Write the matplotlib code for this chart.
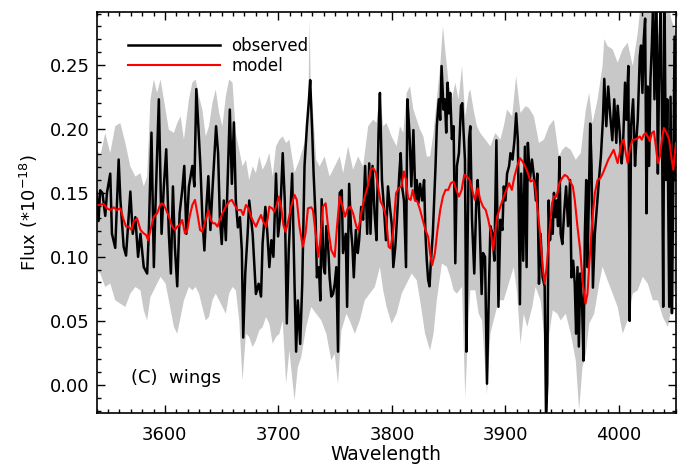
import numpy as np
import matplotlib
matplotlib.use('Agg')
from matplotlib import pyplot as plt
from matplotlib.ticker import MultipleLocator

# observed spectrum (wavelength, flux in 1e-18)
obs_wave = [3540.0, 3541.6, 3543.0, 3545.0, 3547.5, 3549.0, 3551.9, 3553.4, 3556.3, 3559.3,
            3560.8, 3563.7, 3565.8, 3569.6, 3571.7, 3574.0, 3576.4, 3578.5, 3581.4, 3584.4,
            3585.8, 3588.2, 3590.3, 3591.7, 3594.7, 3597.1, 3599.1, 3601.2, 3603.5, 3605.3,
            3607.1, 3608.8, 3610.9, 3613.0, 3615.3, 3617.1, 3618.9, 3621.2, 3624.2, 3626.0,
            3627.7, 3629.5, 3631.3, 3633.0, 3634.8, 3636.6, 3638.3, 3640.1, 3641.9, 3643.4,
            3645.1, 3646.9, 3648.4, 3650.1, 3651.9, 3653.7, 3655.5, 3657.2, 3659.0, 3660.8,
            3662.5, 3664.3, 3666.1, 3667.8, 3669.0, 3670.8, 3672.9, 3674.3, 3677.3, 3680.2,
            3682.6, 3684.7, 3686.1, 3688.5, 3690.3, 3692.0, 3693.8, 3695.6, 3697.9, 3699.7,
            3701.5, 3703.8, 3705.6, 3707.4, 3709.1, 3712.1, 3714.2, 3715.6, 3717.1, 3719.2,
            3721.0, 3723.0, 3725.1, 3726.9, 3728.0, 3729.8, 3731.0, 3732.8, 3733.9, 3735.7,
            3736.9, 3738.1, 3739.8, 3741.0, 3742.2, 3744.0, 3745.1, 3746.6, 3748.1, 3749.6,
            3751.0, 3752.5, 3754.0, 3755.8, 3756.9, 3759.3, 3760.5, 3762.3, 3764.0, 3765.2,
            3766.4, 3768.2, 3769.9, 3771.1, 3772.9, 3774.6, 3776.4, 3778.2, 3780.0, 3781.1,
            3782.9, 3784.7, 3786.4, 3788.2, 3789.4, 3791.2, 3792.9, 3794.7, 3796.5, 3798.2,
            3800.0, 3801.2, 3803.0, 3804.7, 3806.5, 3807.7, 3808.9, 3810.6, 3812.4, 3813.6,
            3815.4, 3817.1, 3818.9, 3820.7, 3821.8, 3823.3, 3824.8, 3826.6, 3828.3, 3829.5,
            3830.7, 3831.9, 3833.1, 3834.2, 3836.0, 3837.2, 3838.4, 3839.5, 3841.3, 3842.5,
            3843.7, 3845.4, 3846.6, 3847.8, 3849.0, 3850.2, 3851.3, 3852.8, 3854.3, 3855.8,
            3857.2, 3859.0, 3860.8, 3862.0, 3863.1, 3864.3, 3865.5, 3866.7, 3867.9, 3869.0,
            3870.5, 3872.5, 3874.3, 3875.5, 3877.3, 3879.0, 3880.2, 3882.0, 3883.7, 3885.2,
            3886.7, 3888.5, 3890.2, 3892.0, 3893.8, 3895.5, 3897.3, 3898.5, 3900.0, 3901.4,
            3903.2, 3904.4, 3906.2, 3907.9, 3909.4, 3910.9, 3912.7, 3913.8, 3915.6, 3917.1,
            3918.6, 3919.7, 3921.5, 3923.3, 3925.0, 3926.8, 3928.0, 3929.5, 3930.9, 3932.7,
            3934.5, 3935.7, 3936.8, 3938.0, 3939.2, 3940.4, 3941.6, 3942.7, 3943.9, 3945.1,
            3946.3, 3947.5, 3948.6, 3950.1, 3951.6, 3953.4, 3955.1, 3956.9, 3958.1, 3959.6,
            3961.0, 3962.2, 3963.4, 3964.6, 3965.8, 3967.5, 3968.7, 3969.9, 3971.1, 3972.2,
            3973.4, 3974.6, 3975.8, 3977.0, 3978.7, 3980.5, 3982.3, 3984.0, 3985.8, 3987.0,
            3988.8, 3990.5, 3992.3, 3994.1, 3995.8, 3997.6, 3998.8, 4000.6, 4002.3, 4003.5,
            4005.3, 4006.5, 4008.2, 4009.4, 4010.6, 4012.4, 4014.1, 4015.3, 4016.5, 4018.3,
            4019.4, 4020.6, 4021.8, 4023.0, 4024.2, 4025.3, 4026.5, 4027.7, 4028.9, 4030.1,
            4031.2, 4033.0, 4034.2, 4035.4, 4036.6, 4037.7, 4038.9, 4040.1, 4041.3, 4042.5,
            4044.2, 4045.4, 4046.6, 4047.8, 4048.9, 4050.1]
obs_flux = [0.150, 0.128, 0.152, 0.150, 0.132, 0.150, 0.165, 0.118, 0.107, 0.176,
            0.145, 0.108, 0.101, 0.151, 0.118, 0.131, 0.100, 0.118, 0.092, 0.087,
            0.118, 0.197, 0.092, 0.139, 0.223, 0.118, 0.155, 0.184, 0.118, 0.087,
            0.155, 0.108, 0.077, 0.134, 0.152, 0.171, 0.118, 0.155, 0.171, 0.155,
            0.231, 0.202, 0.171, 0.131, 0.105, 0.139, 0.163, 0.121, 0.152, 0.176,
            0.202, 0.181, 0.131, 0.110, 0.144, 0.113, 0.165, 0.215, 0.157, 0.205,
            0.144, 0.123, 0.131, 0.105, 0.037, 0.087, 0.118, 0.144, 0.118, 0.071,
            0.079, 0.069, 0.111, 0.139, 0.118, 0.092, 0.113, 0.100, 0.165, 0.116,
            0.131, 0.181, 0.144, 0.048, 0.105, 0.165, 0.079, 0.026, 0.066, 0.032,
            0.079, 0.171, 0.202, 0.223, 0.238, 0.197, 0.165, 0.129, 0.084, 0.092,
            0.066, 0.145, 0.092, 0.087, 0.124, 0.105, 0.084, 0.069, 0.071, 0.079,
            0.092, 0.026, 0.150, 0.152, 0.103, 0.118, 0.061, 0.157, 0.121, 0.108,
            0.084, 0.121, 0.103, 0.113, 0.139, 0.129, 0.171, 0.118, 0.173, 0.118,
            0.171, 0.134, 0.113, 0.197, 0.228, 0.160, 0.139, 0.113, 0.155, 0.139,
            0.124, 0.092, 0.108, 0.134, 0.165, 0.181, 0.155, 0.144, 0.092, 0.223,
            0.197, 0.155, 0.199, 0.144, 0.160, 0.142, 0.157, 0.144, 0.160, 0.118,
            0.097, 0.082, 0.077, 0.095, 0.118, 0.144, 0.171, 0.202, 0.223, 0.207,
            0.249, 0.215, 0.223, 0.197, 0.236, 0.212, 0.228, 0.192, 0.202, 0.095,
            0.171, 0.181, 0.218, 0.220, 0.197, 0.176, 0.026, 0.118, 0.192, 0.202,
            0.129, 0.087, 0.144, 0.160, 0.124, 0.071, 0.103, 0.100, 0.001, 0.066,
            0.124, 0.118, 0.097, 0.191, 0.061, 0.129, 0.121, 0.155, 0.144, 0.165,
            0.171, 0.181, 0.176, 0.191, 0.212, 0.191, 0.063, 0.165, 0.097, 0.186,
            0.092, 0.189, 0.160, 0.176, 0.163, 0.144, 0.165, 0.079, 0.118, 0.084,
            0.077, -0.025, 0.001, 0.144, 0.113, 0.129, 0.118, 0.150, 0.131, 0.144,
            0.124, 0.178, 0.118, 0.110, 0.134, 0.155, 0.124, 0.160, 0.084, 0.097,
            0.079, 0.040, 0.092, 0.030, 0.087, 0.061, 0.019, 0.118, 0.160, 0.092,
            0.144, 0.204, 0.171, 0.076, 0.118, 0.139, 0.160, 0.178, 0.207, 0.239,
            0.202, 0.233, 0.210, 0.191, 0.223, 0.189, 0.218, 0.197, 0.173, 0.186,
            0.236, 0.207, 0.249, 0.050, 0.202, 0.223, 0.171, 0.192, 0.207, 0.257,
            0.265, 0.228, 0.270, 0.286, 0.134, 0.233, 0.171, 0.239, 0.265, 0.300,
            0.223, 0.300, 0.165, 0.249, 0.300, 0.228, 0.061, 0.300, 0.160, 0.223,
            0.061, 0.225, 0.056, 0.160, 0.272, 0.160]

# model spectrum
mod_wave = [3541.6, 3546.0, 3549.0, 3551.9, 3554.9, 3557.8, 3560.8, 3563.7, 3565.8, 3568.1,
            3570.5, 3572.6, 3575.5, 3578.5, 3581.4, 3583.5, 3585.3, 3587.3, 3590.3, 3593.2,
            3595.3, 3597.1, 3599.1, 3601.2, 3603.5, 3606.5, 3608.8, 3610.9, 3613.0, 3615.3,
            3617.7, 3619.8, 3621.8, 3624.2, 3626.5, 3628.6, 3631.0, 3633.0, 3636.0, 3638.3,
            3640.4, 3642.5, 3644.2, 3646.3, 3648.4, 3650.7, 3653.7, 3656.6, 3659.0, 3661.4,
            3664.0, 3667.0, 3669.0, 3671.4, 3673.7, 3675.8, 3677.9, 3680.2, 3682.6, 3684.7,
            3686.7, 3689.1, 3690.6, 3692.0, 3694.4, 3696.5, 3698.5, 3700.3, 3702.4, 3704.4,
            3706.2, 3708.3, 3711.2, 3714.2, 3716.2, 3718.6, 3721.5, 3723.9, 3726.0, 3728.9,
            3730.4, 3732.8, 3735.1, 3736.9, 3739.2, 3741.6, 3744.0, 3746.6, 3749.6, 3751.6,
            3754.0, 3756.4, 3758.7, 3761.1, 3763.4, 3765.8, 3768.7, 3770.5, 3772.9, 3776.1,
            3779.1, 3781.1, 3783.5, 3785.9, 3788.2, 3790.0, 3792.3, 3794.7, 3797.1, 3798.8,
            3801.2, 3803.6, 3805.9, 3808.3, 3810.6, 3812.4, 3814.2, 3816.5, 3818.3, 3820.1,
            3822.4, 3824.8, 3827.2, 3829.5, 3831.9, 3833.6, 3835.4, 3837.8, 3840.1, 3842.5,
            3844.9, 3847.2, 3849.6, 3851.9, 3854.3, 3856.7, 3859.0, 3861.4, 3863.7, 3866.1,
            3868.5, 3871.4, 3873.1, 3875.5, 3877.8, 3880.2, 3882.6, 3884.9, 3887.3, 3889.1,
            3890.8, 3892.6, 3895.5, 3898.5, 3900.9, 3903.2, 3905.6, 3907.9, 3910.3, 3912.7,
            3915.0, 3917.4, 3919.7, 3922.1, 3924.5, 3926.2, 3928.0, 3930.4, 3932.7, 3934.5,
            3936.3, 3938.6, 3941.0, 3942.7, 3945.1, 3947.5, 3949.8, 3952.2, 3954.5, 3956.9,
            3959.3, 3961.0, 3963.4, 3965.8, 3968.1, 3970.5, 3972.2, 3974.0, 3976.4, 3978.7,
            3981.1, 3983.5, 3985.8, 3988.2, 3990.5, 3992.9, 3995.3, 3997.0, 3998.8, 4000.6,
            4002.3, 4004.1, 4005.9, 4007.6, 4009.4, 4011.8, 4014.1, 4016.5, 4018.3, 4020.0,
            4021.8, 4023.6, 4025.3, 4027.1, 4028.9, 4030.7, 4032.4, 4034.2, 4036.0, 4037.7,
            4039.5, 4041.9, 4044.2, 4046.0, 4047.8, 4048.9, 4050.1]
mod_flux = [0.1405, 0.1413, 0.1379, 0.1366, 0.1387, 0.1366, 0.1379, 0.1288, 0.1236, 0.1236,
            0.1210, 0.1275, 0.1301, 0.1210, 0.1183, 0.1170, 0.1131, 0.1210, 0.1314, 0.1340,
            0.1392, 0.1418, 0.1405, 0.1366, 0.1314, 0.1236, 0.1210, 0.1236, 0.1249, 0.1288,
            0.1183, 0.1210, 0.1314, 0.1405, 0.1445, 0.1340, 0.1210, 0.1196, 0.1288, 0.1366,
            0.1288, 0.1262, 0.1262, 0.1236, 0.1288, 0.1340, 0.1392, 0.1432, 0.1445, 0.1405,
            0.1366, 0.1366, 0.1327, 0.1405, 0.1379, 0.1314, 0.1275, 0.1236, 0.1288, 0.1327,
            0.1275, 0.1236, 0.1301, 0.1392, 0.1379, 0.1353, 0.1405, 0.1471, 0.1392, 0.1249,
            0.1196, 0.1262, 0.1392, 0.1484, 0.1445, 0.1236, 0.1079, 0.1183, 0.1379, 0.1387,
            0.1366, 0.1183, 0.1000, 0.1131, 0.1392, 0.1418, 0.1210, 0.1053, 0.1000, 0.1236,
            0.1471, 0.1392, 0.1314, 0.1379, 0.1392, 0.1340, 0.1236, 0.1210, 0.1340, 0.1471,
            0.1562, 0.1680, 0.1693, 0.1654, 0.1523, 0.1432, 0.1392, 0.1314, 0.1079, 0.1066,
            0.1210, 0.1497, 0.1536, 0.1550, 0.1667, 0.1600, 0.1458, 0.1445, 0.1523, 0.1445,
            0.1432, 0.1366, 0.1288, 0.1210, 0.1157, 0.1027, 0.0935, 0.1027, 0.1210, 0.1366,
            0.1471, 0.1523, 0.1523, 0.1575, 0.1588, 0.1523, 0.1471, 0.1523, 0.1640, 0.1627,
            0.1600, 0.1497, 0.1445, 0.1536, 0.1445, 0.1392, 0.1366, 0.1288, 0.1183, 0.1053,
            0.1183, 0.1314, 0.1392, 0.1471, 0.1523, 0.1575, 0.1523, 0.1627, 0.1706, 0.1771,
            0.1745, 0.1706, 0.1654, 0.1588, 0.1600, 0.1550, 0.1392, 0.1183, 0.0922, 0.0792,
            0.0922, 0.1183, 0.1418, 0.1471, 0.1471, 0.1575, 0.1614, 0.1640, 0.1627, 0.1588,
            0.1550, 0.1445, 0.1236, 0.1053, 0.0792, 0.0635, 0.0713, 0.0970, 0.1288, 0.1497,
            0.1600, 0.1614, 0.1654, 0.1706, 0.1758, 0.1797, 0.1836, 0.1784, 0.1732, 0.1810,
            0.1889, 0.1915, 0.1810, 0.1732, 0.1836, 0.1915, 0.1915, 0.1928, 0.1940, 0.1915,
            0.1954, 0.1967, 0.1940, 0.1902, 0.1967, 0.1980, 0.1863, 0.1732, 0.1784, 0.1915,
            0.2006, 0.1967, 0.1915, 0.1784, 0.1680, 0.1784, 0.1889]

# uncertainty band, upper and lower edges
up_wave = [3539.2, 3543.1, 3547.5, 3551.9, 3556.3, 3560.8, 3565.2, 3569.6, 3574.0, 3578.5,
           3581.4, 3584.4, 3587.3, 3590.3, 3593.2, 3596.2, 3600.6, 3603.5, 3608.0, 3610.9,
           3613.9, 3616.8, 3621.2, 3624.2, 3627.1, 3630.1, 3633.0, 3636.0, 3638.9, 3641.9,
           3644.8, 3647.8, 3650.7, 3653.7, 3656.6, 3659.6, 3662.5, 3665.5, 3668.4, 3671.4,
           3674.3, 3677.3, 3680.2, 3683.2, 3686.1, 3689.1, 3692.0, 3695.0, 3697.9, 3700.9,
           3703.8, 3706.8, 3709.7, 3714.2, 3718.6, 3723.0, 3726.3, 3727.4, 3728.6, 3730.4,
           3733.3, 3736.3, 3740.7, 3745.1, 3749.6, 3754.0, 3757.0, 3761.4, 3765.8, 3770.2,
           3774.6, 3779.1, 3783.5, 3786.4, 3789.4, 3792.3, 3795.3, 3799.7, 3804.1, 3807.1,
           3810.0, 3813.0, 3815.9, 3818.9, 3821.8, 3824.8, 3827.7, 3830.7, 3833.6, 3836.6,
           3839.5, 3842.5, 3844.9, 3846.9, 3849.9, 3852.8, 3855.8, 3858.7, 3861.7, 3864.6,
           3867.6, 3869.0, 3871.9, 3874.9, 3877.8, 3882.3, 3886.7, 3891.1, 3895.5, 3898.5,
           3901.4, 3905.9, 3909.4, 3913.2, 3917.7, 3920.6, 3925.0, 3929.5, 3933.9, 3938.3,
           3942.7, 3947.2, 3950.1, 3953.1, 3957.5, 3961.9, 3966.3, 3970.8, 3973.7, 3976.7,
           3981.1, 3985.5, 3987.0, 3989.9, 3994.4, 3998.8, 4003.2, 4007.6, 4012.1, 4016.5,
           4019.4, 4023.9, 4028.3, 4032.7, 4035.7, 4038.6, 4043.0, 4046.0, 4050.1]
up_flux = [0.1863, 0.1784, 0.1967, 0.1810, 0.2020, 0.2045, 0.1889, 0.1706, 0.1627, 0.1654,
           0.1550, 0.1627, 0.2228, 0.2385, 0.2280, 0.2385, 0.2150, 0.1993, 0.1967, 0.2045,
           0.2098, 0.1915, 0.2228, 0.2360, 0.2385, 0.2254, 0.2150, 0.1940, 0.2020, 0.2202,
           0.2307, 0.2124, 0.2020, 0.2254, 0.2385, 0.2360, 0.1967, 0.1836, 0.1706, 0.1758,
           0.1600, 0.1706, 0.1654, 0.1784, 0.1680, 0.1732, 0.1810, 0.1627, 0.1863, 0.1915,
           0.1940, 0.1889, 0.1915, 0.1658, 0.1758, 0.1889, 0.2100, 0.2855, 0.2300, 0.2150,
           0.1758, 0.1706, 0.1784, 0.1627, 0.1706, 0.1784, 0.1654, 0.1863, 0.1680, 0.1784,
           0.1706, 0.2020, 0.2072, 0.2045, 0.2280, 0.2020, 0.2045, 0.1940, 0.1863, 0.2020,
           0.1967, 0.2280, 0.2333, 0.2150, 0.2072, 0.1993, 0.1940, 0.1784, 0.1784, 0.1967,
           0.2228, 0.2490, 0.2800, 0.2620, 0.2360, 0.2228, 0.2360, 0.2228, 0.2490, 0.2098,
           0.2280, 0.2307, 0.2150, 0.2020, 0.1967, 0.1915, 0.1863, 0.1967, 0.1915, 0.2020,
           0.2150, 0.2098, 0.2411, 0.2124, 0.2176, 0.2163, 0.2098, 0.1889, 0.1915, 0.2020,
           0.2072, 0.1784, 0.1836, 0.1863, 0.1836, 0.1758, 0.1810, 0.2150, 0.2280, 0.2045,
           0.2228, 0.2490, 0.2700, 0.2646, 0.2620, 0.2516, 0.2620, 0.2672, 0.2490, 0.2750,
           0.3000, 0.3000, 0.3000, 0.2855, 0.2700, 0.3000, 0.3000, 0.2855, 0.2750]
lo_wave = [3539.2, 3543.1, 3547.5, 3551.9, 3556.3, 3560.8, 3565.2, 3569.6, 3574.0, 3578.5,
           3581.4, 3584.4, 3587.3, 3590.3, 3593.2, 3596.2, 3600.6, 3603.5, 3608.0, 3610.9,
           3613.9, 3616.8, 3621.2, 3624.2, 3627.1, 3630.1, 3633.0, 3636.0, 3638.9, 3641.9,
           3644.8, 3647.8, 3650.7, 3653.7, 3656.6, 3659.6, 3662.5, 3665.5, 3668.4, 3671.4,
           3674.3, 3677.3, 3680.2, 3683.2, 3686.1, 3689.1, 3692.0, 3695.0, 3697.9, 3700.9,
           3703.8, 3706.8, 3709.7, 3714.2, 3717.1, 3720.1, 3724.5, 3728.9, 3733.3, 3737.8,
           3742.2, 3746.6, 3749.6, 3752.5, 3755.5, 3759.9, 3762.8, 3767.3, 3771.7, 3776.1,
           3780.5, 3784.9, 3789.4, 3792.3, 3795.3, 3799.7, 3804.1, 3808.6, 3813.0, 3817.4,
           3821.8, 3824.8, 3829.2, 3833.6, 3836.6, 3839.5, 3844.0, 3848.4, 3851.3, 3854.3,
           3857.2, 3861.7, 3864.6, 3867.6, 3869.0, 3873.4, 3876.4, 3879.3, 3883.7, 3886.7,
           3889.6, 3894.1, 3898.5, 3902.9, 3907.3, 3910.3, 3913.2, 3916.2, 3919.1, 3923.6,
           3926.5, 3930.9, 3933.9, 3936.3, 3938.6, 3941.6, 3945.7, 3948.6, 3953.1, 3957.5,
           3961.9, 3964.9, 3967.8, 3970.8, 3973.7, 3978.1, 3982.6, 3985.5, 3989.9, 3994.4,
           3998.8, 4003.2, 4007.6, 4012.1, 4016.5, 4020.9, 4025.3, 4029.8, 4034.2, 4038.6,
           4043.0, 4047.5, 4050.1]
lo_flux = [0.0896, 0.0870, 0.0765, 0.0792, 0.0661, 0.0635, 0.0609, 0.0713, 0.0765, 0.0739,
           0.0583, 0.0504, 0.0687, 0.0739, 0.0792, 0.0844, 0.0792, 0.0661, 0.0452, 0.0400,
           0.0530, 0.0661, 0.0765, 0.0739, 0.0765, 0.0713, 0.0609, 0.0504, 0.0530, 0.0661,
           0.0713, 0.0661, 0.0609, 0.0556, 0.0713, 0.0765, 0.0739, 0.0504, 0.0034, 0.0400,
           0.0374, 0.0295, 0.0347, 0.0426, 0.0452, 0.0530, 0.0478, 0.0321, 0.0374, 0.0400,
           0.0504, 0.0008, 0.0269, -0.0123, 0.0138, 0.0217, 0.0452, 0.0609, 0.0556, 0.0504,
           0.0400, 0.0191, 0.0243, 0.0008, 0.0426, 0.0556, 0.0504, 0.0400, 0.0504, 0.0661,
           0.0713, 0.0765, 0.0922, 0.0739, 0.0609, 0.0478, 0.0556, 0.0713, 0.0792, 0.0870,
           0.0818, 0.0661, 0.0400, 0.0269, 0.0400, 0.0661, 0.0948, 0.0922, 0.0844, 0.0739,
           0.0713, 0.0765, -0.0097, 0.0530, 0.0739, 0.0739, 0.0556, 0.0504, -0.0070, 0.0400,
           0.0504, 0.0661, 0.0661, 0.0792, 0.0922, 0.0713, 0.0321, 0.0556, 0.0452, 0.0609,
           0.0765, 0.0661, 0.0400, -0.0227, 0.0400, 0.0583, 0.0556, 0.0504, 0.0556, 0.0400,
           0.0191, -0.0200, 0.0138, 0.0243, 0.0478, 0.0556, 0.0792, 0.0922, 0.0818, 0.0713,
           0.0609, 0.0400, 0.0504, 0.0713, 0.0739, 0.0844, 0.0792, 0.0661, 0.0661, 0.0530,
           0.0452, 0.0661, 0.0792]

fig = plt.figure(figsize=(6.91, 4.70), dpi=100)
ax = fig.add_axes([0.140, 0.121, 0.838, 0.853])

band_x = np.concatenate([up_wave, lo_wave[::-1]])
band_y = np.concatenate([up_flux, lo_flux[::-1]])
ax.fill(band_x, band_y, color='#c8c8c8', lw=0, zorder=1)
ax.plot(obs_wave, obs_flux, color='black', lw=1.8, label='observed', zorder=2)
ax.plot(mod_wave, mod_flux, color='red', lw=1.5, label='model', zorder=3)

ax.set_xlim(3540, 4050)
ax.set_ylim(-0.022, 0.291)
ax.xaxis.set_major_locator(MultipleLocator(100))
ax.xaxis.set_minor_locator(MultipleLocator(10))
ax.yaxis.set_major_locator(MultipleLocator(0.05))
ax.yaxis.set_minor_locator(MultipleLocator(0.01))
ax.yaxis.set_major_formatter(matplotlib.ticker.FormatStrFormatter('%.2f'))
ax.tick_params(which='both', direction='in', top=True, right=True, width=1)
ax.tick_params(which='major', length=6, labelsize=13)
ax.tick_params(which='minor', length=3)
ax.tick_params(axis='x', which='major', pad=9)
ax.tick_params(axis='y', which='major', pad=5)
for s in ax.spines.values():
    s.set_linewidth(1.2)

ax.set_xlabel('Wavelength', fontsize=13.5, labelpad=1)
ax.set_ylabel('Flux (*10$^{-18}$)', fontsize=13, labelpad=7)

ax.legend(loc='upper left', bbox_to_anchor=(0.028, 0.975), frameon=False,
          handlelength=5.5, handletextpad=0.7, fontsize=12, labelspacing=0.1)
ax.text(0.059, 0.087, '(C)  wings', transform=ax.transAxes, fontsize=13,
        va='center', ha='left')

plt.savefig('out.png', dpi=100)
